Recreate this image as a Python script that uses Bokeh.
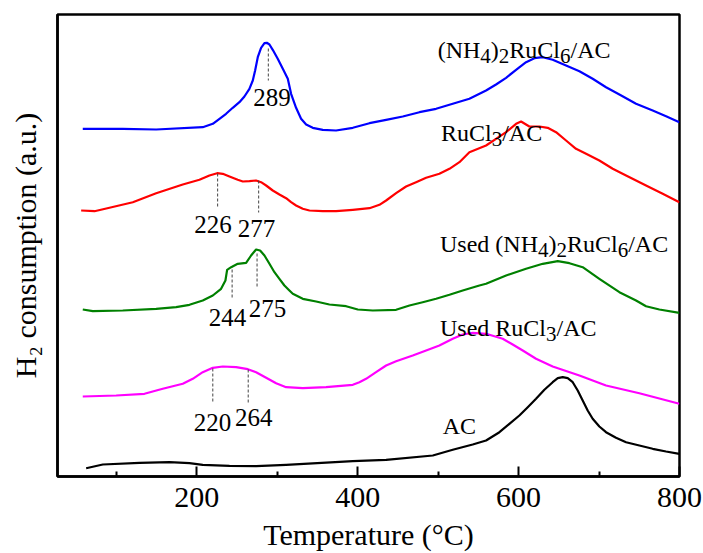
from bokeh.plotting import figure
from bokeh.models import Range1d, FixedTicker, Label, ColumnDataSource
from bokeh.embed import file_html
from bokeh.resources import INLINE

# ---------------- data ----------------
temp_nh4 = [58.4, 108.1, 149.6, 207.5, 220, 228.3, 236.5, 244.8, 253.1, 259.3, 265.5, 269.7,
            272.6, 275.9, 280, 284.2, 287.1, 290.4, 294.5, 300.7, 307, 313.2, 317.3, 323.5,
            329.7, 336, 344.2, 356.7, 373.2, 394, 414.7, 435.4, 456.1, 476.8, 497.5, 518.2,
            538.9, 559.6, 572, 584.5, 596.9, 609.3, 619.7, 630, 642.4, 659, 675.6, 692.1,
            708.7, 725.3, 746, 766.7, 783.3, 799.8]
h2_nh4 = [347.7, 347.7, 347, 349.3, 352.7, 357.7, 362.7, 368.7, 374.3, 380, 387.7, 396, 406,
          419.3, 428.7, 433.3, 433.7, 432, 426.7, 417.7, 407.7, 397.7, 382.7, 368.7, 357.7,
          352, 348.7, 346.7, 346, 348.7, 353.3, 356.7, 360, 364.3, 367.7, 372.7, 377.7, 386,
          392, 398.7, 406.7, 414.3, 418.3, 419.3, 416.7, 411, 405.3, 397.7, 389.3, 382, 372.7,
          366, 360.3, 354.3]

temp_rucl3 = [56.4, 73, 91.6, 120.6, 149.6, 182.7, 203.4, 215.8, 225.4, 232.4, 240.7, 251,
              257.3, 265.5, 273.8, 280, 286.3, 294.5, 302.8, 311.1, 317.3, 323.5, 331.8, 340.1,
              356.7, 373.2, 394, 414.7, 427.1, 435.4, 447.8, 460.2, 472.6, 485.1, 501.6, 514.1,
              526.5, 538.9, 559.6, 572, 584.5, 596.9, 603.1, 613.4, 625.9, 636.2, 646.6, 659,
              671.4, 683.9, 700.4, 717, 733.6, 758.4, 779.1, 799.8]
h2_rucl3 = [266, 265.3, 268.7, 274.3, 283.3, 292, 296.7, 301, 303.3, 302.7, 300, 296.7, 295,
            295.3, 296, 294.3, 291, 286, 282, 278.3, 274.3, 271, 267.7, 266, 265.3, 265.3, 266.7,
            268.3, 271.7, 276, 283.3, 290, 294.3, 298.7, 302.7, 307.7, 314.3, 324.3, 331, 337.7,
            344.3, 352.7, 355, 350, 350, 348.7, 344.3, 336, 327.7, 322.7, 316, 307.7, 301, 291,
            282.7, 274.3]

temp_used_nh4 = [58.4, 70.9, 108.1, 149.6, 174.4, 191, 207.5, 220, 230.3, 235.7, 237.8, 242.8,
                 251, 261.4, 267.6, 273.8, 278.8, 284.2, 290.4, 296.6, 302.8, 309, 315.2, 319.4,
                 331.8, 348.4, 364.9, 385.7, 400.2, 418.8, 447.8, 464.4, 480.9, 497.5, 514.1,
                 530.6, 551.3, 559.6, 584.5, 609.3, 630, 648.7, 663.2, 679.7, 700.4, 725.3, 746,
                 758.4, 775, 799.8]
h2_used_nh4 = [167, 165.3, 166, 167.7, 169.3, 171.7, 176, 181, 187.7, 196, 206.7, 209.3, 212.7,
               213.7, 221, 227, 226, 221, 212.7, 204.3, 197.7, 191, 186, 182.7, 177.7, 175, 172,
               170.3, 167, 166, 166.7, 171, 174.3, 177.7, 181.7, 186, 191, 192.7, 201, 207.7,
               212.7, 215.3, 213.3, 209.3, 197.7, 184.3, 176, 170.3, 167, 163.7]

temp_used_rucl3 = [58.4, 99.9, 135.1, 157.8, 182.7, 195.1, 207.5, 220, 232.4, 249, 263.5,
                   273.8, 286.3, 298.7, 311.1, 331.8, 360.8, 394, 402.2, 410.5, 422.9, 435.4,
                   447.8, 468.5, 485.1, 501.6, 518.2, 530.6, 543, 559.6, 580.3, 592.7, 605.2,
                   621.7, 642.4, 675.6, 708.7, 750.1, 799.8]
h2_used_rucl3 = [80, 81, 82.7, 87.7, 92.7, 97.7, 104.3, 108.7, 110, 109.3, 107.3, 104.3, 98.7,
                 93.3, 89.3, 88.3, 89.3, 91.7, 94.3, 97.7, 104.3, 111, 115.3, 121, 126, 131,
                 137.7, 142, 143.7, 142.7, 137.7, 132, 126, 117.7, 110, 101, 91, 83.3, 72.7]

temp_ac = [62.6, 83.3, 128.9, 166.1, 191, 207.5, 240.7, 273.8, 311.1, 394, 435.4, 493.4, 518.2,
           543, 559.6, 576.2, 588.6, 601, 611.4, 621.7, 632.1, 642.4, 648.7, 654.9, 661.1,
           667.3, 673.5, 679.7, 685.9, 692.1, 700.4, 708.7, 721.1, 733.6, 750.1, 766.7, 783.3,
           799.8]
h2_ac = [8.3, 12, 13.7, 14.3, 13.3, 11.7, 10.7, 10.3, 11.7, 15.3, 16.7, 21, 26.7, 32, 36, 44.3,
         52.7, 61, 69.3, 77.7, 86.7, 94.3, 98.3, 99.3, 98.3, 94.3, 86, 76, 66, 57.7, 50, 44.3,
         38.7, 34.3, 31, 27.7, 25, 22.7]

# peak markers: temperature, dashed line top and bottom, label anchor
peak_temps = [289, 226, 277, 244, 275, 220, 264]
peak_top = [428, 303, 296, 207, 223, 108, 107]
peak_bottom = [396, 268, 264, 178, 189, 73, 73]
peak_label_x = [270.4, 197.1, 251, 215, 264.7, 196.4, 247.7]
peak_label_y = [379.3, 252, 247.7, 159.3, 167.7, 54.3, 59.3]

x_ticks = [200, 400, 600, 800]
x_minor_ticks = [100, 300, 500, 700]

FONT = "Times New Roman"

p = figure(width=703, height=553, output_backend="svg", toolbar_location=None,
           x_range=Range1d(27, 800), y_range=Range1d(0, 462),
           min_border_left=57, min_border_right=24, min_border_top=14, min_border_bottom=77)
p.background_fill_color = "white"
p.border_fill_color = "white"
p.grid.visible = False
p.outline_line_color = "black"
p.outline_line_width = 2.5

series = [
    (temp_nh4, h2_nh4, "#0000ff"),
    (temp_rucl3, h2_rucl3, "#ff0000"),
    (temp_used_nh4, h2_used_nh4, "#008000"),
    (temp_used_rucl3, h2_used_rucl3, "#ff00ff"),
    (temp_ac, h2_ac, "#000000"),
]
for xs, ys, col in series:
    p.line(xs, ys, line_color=col, line_width=2.2, line_join="round")

p.segment(x0=peak_temps, y0=peak_top, x1=peak_temps, y1=peak_bottom,
          line_color="#444444", line_width=1, line_dash="3 2")

src = ColumnDataSource(dict(x=peak_label_x, y=peak_label_y, t=[str(v) for v in peak_temps]))
p.text(x="x", y="y", text="t", source=src, text_font={"value": FONT},
       text_font_size={"value": "25px"}, text_align="left", text_baseline="alphabetic",
       text_color="black")

xa = p.xaxis[0]
xa.ticker = FixedTicker(ticks=x_ticks, minor_ticks=x_minor_ticks)
xa.major_tick_in = 10
xa.major_tick_out = 0
xa.minor_tick_in = 5
xa.minor_tick_out = 0
xa.major_tick_line_width = 2
xa.minor_tick_line_width = 2
xa.axis_line_width = 2.5
xa.major_label_text_font = FONT
xa.major_label_text_font_size = "30px"
xa.major_label_text_color = "black"
xa.major_label_standoff = 11
xa.axis_label = "Temperature (°C)"
xa.axis_label_text_font = FONT
xa.axis_label_text_font_size = "30px"
xa.axis_label_text_font_style = "normal"
xa.axis_label_text_color = "black"
xa.axis_label_standoff = 8

ya = p.yaxis[0]
ya.ticker = FixedTicker(ticks=[])
ya.major_tick_line_color = None
ya.minor_tick_line_color = None
ya.major_tick_in = 0
ya.major_tick_out = 0
ya.minor_tick_in = 0
ya.minor_tick_out = 0
ya.major_label_standoff = 0
ya.major_label_text_font_size = "0px"
ya.axis_line_width = 2.5
ya.axis_label = "H\u2082 consumption (a.u.)"
ya.axis_label_text_font = FONT
ya.axis_label_text_font_size = "30px"
ya.axis_label_text_font_style = "normal"
ya.axis_label_text_color = "black"
ya.axis_label_standoff = 16

W = {'(': 333, ')': 333, 'N': 722, 'H': 722, 'R': 667, 'u': 500, 'C': 667, 'l': 278, '/': 278,
     'A': 722, 'U': 722, 's': 389, 'e': 444, 'd': 500, ' ': 250}
for dch in "0123456789":
    W[dch] = 500


def rich_label(x, y, segs, size, sub_size, drop):
    off = 0.0
    for txt, sub in segs:
        fs = sub_size if sub else size
        d = drop if sub else 0
        p.add_layout(Label(x=x, y=y, text=txt, x_offset=off, y_offset=-d,
                           text_font=FONT, text_font_size=f"{fs}px",
                           text_align="left", text_baseline="alphabetic", text_color="black"))
        off += sum(W.get(c, 500) for c in txt) * fs / 1000.0


rich_label(499.5, 427, [("(NH", 0), ("4", 1), (")", 0), ("2", 1), ("RuCl", 0), ("6", 1),
                        ("/AC", 0)], 24, 21, 6)
rich_label(503.6, 344, [("RuCl", 0), ("3", 1), ("/AC", 0)], 24, 21, 6)
rich_label(502.4, 233, [("Used (NH", 0), ("4", 1), (")", 0), ("2", 1), ("RuCl", 0), ("6", 1),
                        ("/AC", 0)], 24, 21, 6)
rich_label(502.4, 148.5, [("Used RuCl", 0), ("3", 1), ("/AC", 0)], 24, 21, 6)
rich_label(505.7, 51, [("AC", 0)], 24, 21, 6)

open("out.html", "w").write(file_html(p, INLINE))
